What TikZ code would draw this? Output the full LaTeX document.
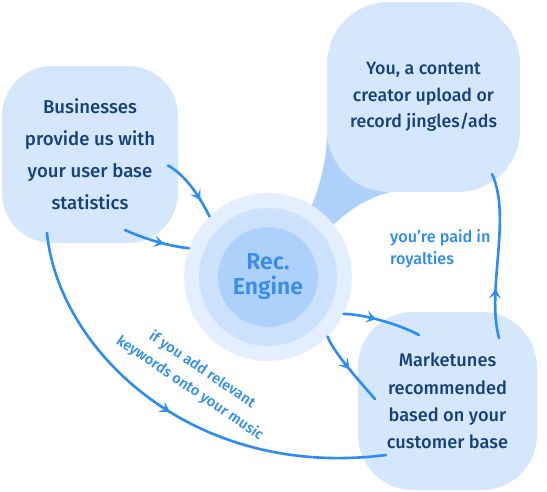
\documentclass[tikz,border=0pt]{standalone}
\usepackage{fontspec}
\setmainfont{Fira Sans}[UprightFont=* Medium, BoldFont=* SemiBold]
\usetikzlibrary{arrows.meta,calc,decorations.markings}

\definecolor{boxblue}{HTML}{D4E7FD}
\definecolor{ringout}{HTML}{E3EFFE}
\definecolor{ringmid}{HTML}{CCE2FC}
\definecolor{ringin}{HTML}{AED1FB}
\definecolor{navy}{HTML}{17407C}
\definecolor{lineblue}{HTML}{2B8CF7}
\definecolor{engblue}{HTML}{3A8BEF}

\tikzset{
  blob/.style={fill=boxblue, rounded corners=#1, inner sep=0pt, align=center, text=navy},
  flow/.style={color=lineblue, line width=2.6pt, line cap=round},
  midarrow/.style={postaction=decorate, decoration={markings,
      mark=at position #1 with {\arrow{Stealth[length=10pt,width=12pt,inset=4.5pt]}}}},
  note/.style={text=lineblue, inner sep=0pt}
}

\begin{document}
\begin{tikzpicture}[x=1pt,y=-1pt]
  \useasboundingbox (0,0) rectangle (547,491);
  % link between the engine and the creator box
  \fill[ringin] (300,240) -- (312,205) .. controls (318,190) and (326,165) .. (327,137)
    -- (420,150) -- (410,188) .. controls (375,193) and (355,205) .. (333,225) -- cycle;

  \node[blob=50, minimum width=176, minimum height=177, font=\fontsize{18.6}{32}\selectfont]
    (biz) at (90,154.5) {Businesses\\provide us with\\your user base\\statistics};
  \node[blob=62, minimum width=193, minimum height=190, font=\fontsize{17.8}{26.5}\selectfont]
    (creator) at (423.5,97) {You, a content\\creator upload or\\record jingles/ads};
  \node[blob=55, minimum width=179, minimum height=178, font=\fontsize{18.2}{27.3}\selectfont]
    (market) at (447.5,401) {Marketunes\\recommended\\based on your\\customer base};

  \node[circle, fill=ringout, minimum size=168, inner sep=0pt] (eng) at (268,277) {};
  \node[circle, fill=ringmid, minimum size=138, inner sep=0pt] (engmid) at (eng) {};
  \node[circle, fill=ringin, minimum size=100, inner sep=0pt, align=center, text=engblue,
    font=\fontsize{23}{25}\bfseries] (engcore) at (eng) {Rec.\\Engine};

  \node[note, anchor=west, align=left, font=\fontsize{16.2}{22}\selectfont]
    (paid) at (390,249) {you’re paid in\\royalties};
  \node[note, rotate=-34, align=center, font=\fontsize{14.6}{22}\selectfont]
    (keywords) at (196,379) {if you add relevant\\keywords onto your music};

  \draw[flow, midarrow=0.72] ($(biz.center)+(78,11)$) .. controls +(18,10) and +(-10,-20) .. (eng.134);
  \draw[flow, midarrow=0.62] ($(biz.center)+(35,75.5)$) .. controls +(20,9) and +(-20,-2) .. (eng.160);
  \draw[flow, midarrow=0.42] (eng.-26) .. controls +(20,0) and +(-18,-10) .. ($(market.center)+(-28.5,-66)$);
  \draw[flow, midarrow=0.5] (eng.-45) .. controls +(6,16) and +(-14,-16) .. ($(market.center)+(-72.5,-2)$);
  \draw[flow, midarrow=0.3] ($(market.center)+(51.5,-63)$) .. controls +(-13,-48) and +(20,43) .. ($(creator.center)+(68.5,77)$);
  \draw[flow, midarrow=0.5] ($(biz.center)+(-43,78.5)$) .. controls +(11,115) and +(-196,25) .. ($(market.center)+(-61.5,54)$);
\end{tikzpicture}
\end{document}
